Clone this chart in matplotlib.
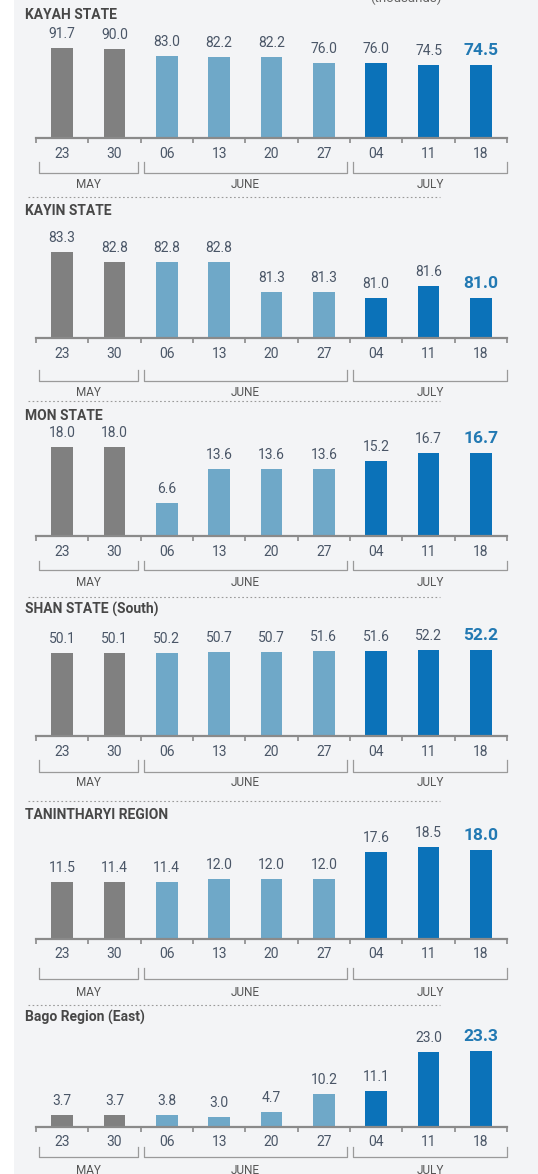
import matplotlib
matplotlib.use("Agg")
import matplotlib.pyplot as plt
from matplotlib.transforms import blended_transform_factory
from matplotlib.patches import Rectangle

plt.rcParams['font.family'] = ['Roboto', 'DejaVu Sans']

# data
days = ['23', '30', '06', '13', '20', '27', '04', '11', '18']
months = ['MAY', 'JUNE', 'JULY']
month_len = [2, 4, 3]
titles = ['KAYAH STATE', 'KAYIN STATE', 'MON STATE', 'SHAN STATE (South)',
          'TANINTHARYI REGION', 'Bago Region (East)']
kayah = [91.7, 90.0, 83.0, 82.2, 82.2, 76.0, 76.0, 74.5, 74.5]
kayin = [83.3, 82.8, 82.8, 82.8, 81.3, 81.3, 81.0, 81.6, 81.0]
mon = [18.0, 18.0, 6.6, 13.6, 13.6, 13.6, 15.2, 16.7, 16.7]
shan = [50.1, 50.1, 50.2, 50.7, 50.7, 51.6, 51.6, 52.2, 52.2]
tanintharyi = [11.5, 11.4, 11.4, 12.0, 12.0, 12.0, 17.6, 18.5, 18.0]
bago = [3.7, 3.7, 3.8, 3.0, 4.7, 10.2, 11.1, 23.0, 23.3]
series = [kayah, kayin, mon, shan, tanintharyi, bago]

# layout (pixels)
W, H = 538, 1174
BG = '#f3f4f6'
GRAY, LIGHT, DARK = '#808080', '#6fa8c8', '#0b72b9'
HILITE = '#2279b3'
TXT = '#4a5667'
AX_L, AX_R = 36, 507
panel_h = 115
baselines = [138, 338, 536, 736, 939, 1127]
title_y = [15, 211, 416, 609, 815, 1017]
y_bottom = [0, 79, 0, 0, 0, 0]
px_per_unit = [0.985, 20.0, 4.95, 1.65, 4.96, 3.25]
bracket_off = [(24, 35, 46), (32, 43, 54), (25, 34, 46), (24, 36, 47),
               (29, 40, 53), (20, 30, 43)]
sep_y = [197, 401, 597, 801, 1005]

fig = plt.figure(figsize=(W / 100, H / 100), dpi=100)
fig.patch.set_facecolor(BG)
fig.patches.append(Rectangle((0, 0), 14 / W, 1, transform=fig.transFigure,
                             facecolor='white', edgecolor='none', zorder=0))


def fy(py):
    return 1 - py / H


# only the bottom of this label shows at the top edge, as in the source
fig.text(406 / W, fy(5), '(thousands)', ha='center', va='bottom',
         fontsize=9.5, color='#666666')

colors = [GRAY] * month_len[0] + [LIGHT] * month_len[1] + [DARK] * month_len[2]
x = list(range(len(days)))

for k, vals in enumerate(series):
    base = baselines[k]
    ax = fig.add_axes([AX_L / W, fy(base), (AX_R - AX_L) / W, panel_h / H])
    ax.set_facecolor('none')
    ax.set_xlim(-0.5, len(days) - 0.5)
    ax.set_ylim(y_bottom[k], y_bottom[k] + panel_h / px_per_unit[k])
    ax.bar(x, vals, width=0.41, color=colors, zorder=2)
    for s in ['top', 'left', 'right']:
        ax.spines[s].set_visible(False)
    ax.spines['bottom'].set_color('#8a8a8a')
    ax.spines['bottom'].set_linewidth(1.6)
    ax.set_yticks([])
    ax.set_xticks([i - 0.5 for i in range(len(days) + 1)])
    ax.set_xticklabels([])
    ax.tick_params(axis='x', length=3.5, width=1.2, color='#8a8a8a', direction='out')

    for i, v in enumerate(vals):
        last = i == len(vals) - 1
        ax.annotate(f'{v:.1f}', (i, v), xytext=(0, 7.2), textcoords='offset points',
                    ha='center', va='baseline',
                    fontsize=12.5 if last else 10,
                    fontweight='bold' if last else 'normal',
                    color=HILITE if last else TXT)

    tr = blended_transform_factory(ax.transData, fig.transFigure)
    for i, d in enumerate(days):
        ax.text(i, fy(base + 15.5), d, transform=tr, ha='center', va='center',
                fontsize=10, color=TXT)

    top, bot, lab = bracket_off[k]
    start = 0
    for m, n in zip(months, month_len):
        x0 = start - 0.5 + 0.06
        x1 = start + n - 0.5 - (0.0 if start + n == len(days) else 0.05)
        ax.plot([x0, x0, x1, x1], [fy(base + top), fy(base + bot), fy(base + bot),
                                   fy(base + top)], transform=tr, color='#9a9a9a',
                lw=0.9, clip_on=False)
        ax.text((x0 + x1) / 2, fy(base + lab), m, transform=tr, ha='center',
                va='center', fontsize=8.5, color='#555555')
        start += n

    fig.text(25 / W, fy(title_y[k]), titles[k], ha='left', va='center',
             fontsize=10, fontweight='bold', color='#474747')

for sy in sep_y:
    fig.add_artist(plt.Line2D([28 / W, 440 / W], [fy(sy), fy(sy)],
                              transform=fig.transFigure, color='#9a9a9a',
                              lw=0.8, linestyle=(0, (1.5, 2.2))))

fig.savefig('out.png', dpi=100, facecolor=fig.get_facecolor())
